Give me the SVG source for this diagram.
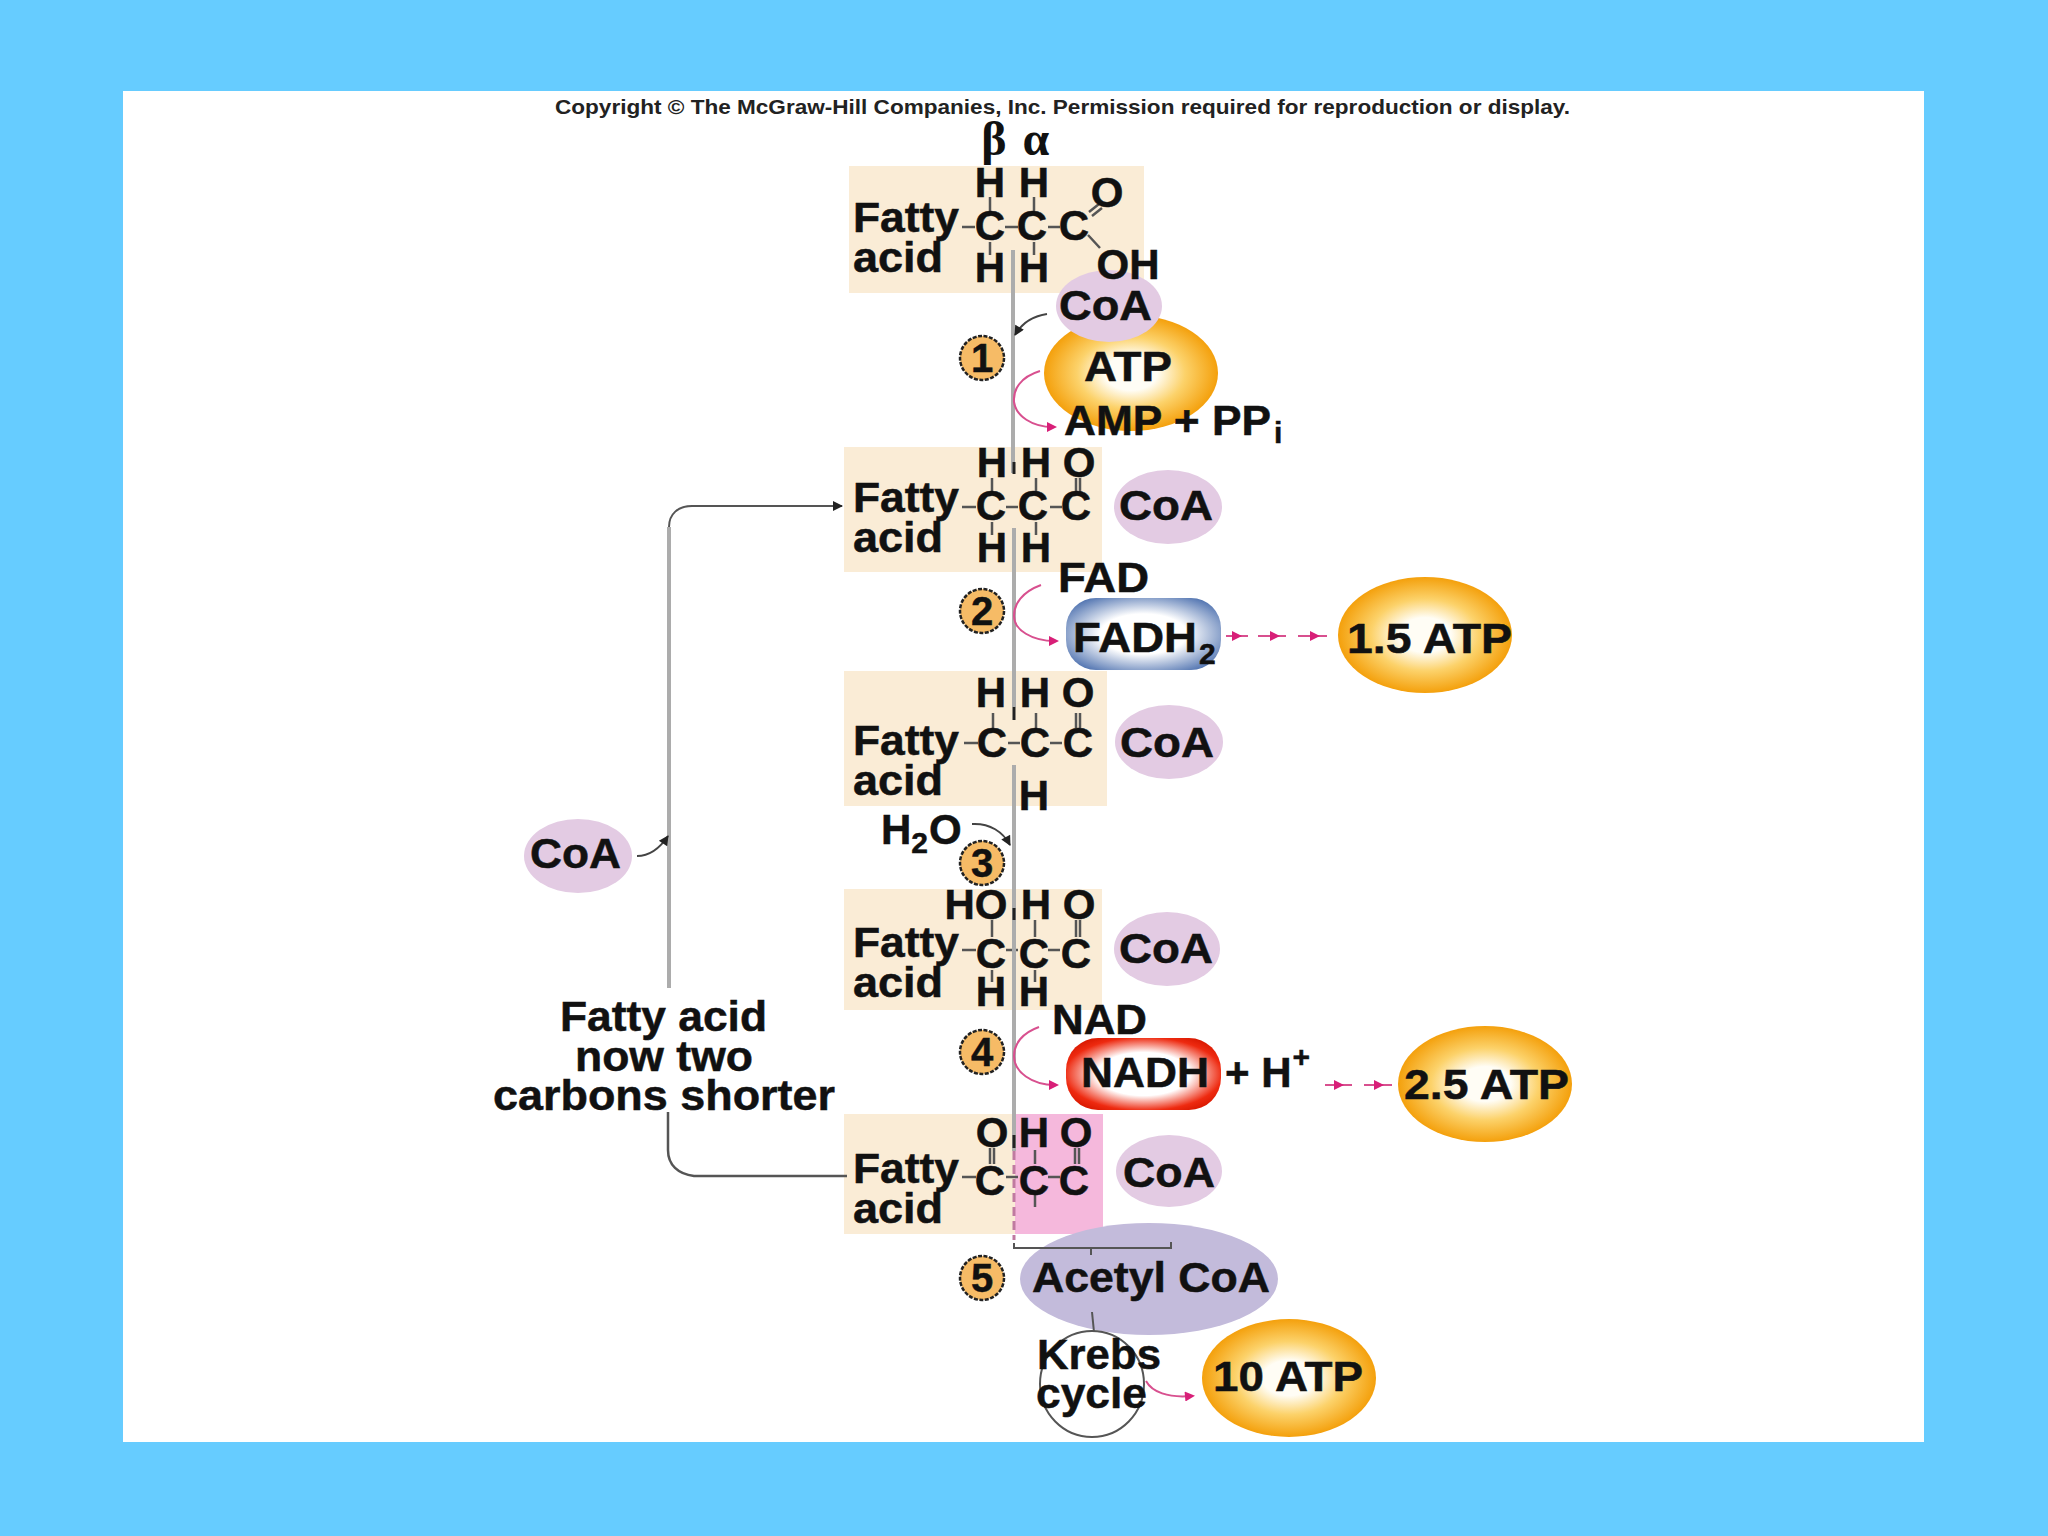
<svg xmlns="http://www.w3.org/2000/svg" width="2048" height="1536" viewBox="0 0 2048 1536">
<style>
text{font-family:"Liberation Sans",Arial,sans-serif;font-weight:700;font-size:42px;fill:#111;stroke:#111;stroke-width:.5}
.m{text-anchor:middle}
.sub{font-size:30px}
.greek{font-family:"Liberation Serif","DejaVu Serif",serif;font-size:48px;font-weight:700;stroke-width:0}
.box{fill:#faecd6}
.coa{fill:#e3cbe3}
.bond{stroke:#555;stroke-width:2.5;fill:none}
.num{fill:#f6bb66;stroke:#222;stroke-width:2.5;stroke-dasharray:4 1.5}
.numt{font-size:40px;text-anchor:middle}
.grey{stroke:#acacac;stroke-width:4;fill:none}
.thin{stroke:#555;stroke-width:2;fill:none}
.blk{stroke:#444;stroke-width:2;fill:none;marker-end:url(#ab)}
.mag{stroke:#d8508f;stroke-width:2;fill:none;marker-end:url(#am)}
.dash{stroke:#d8508f;stroke-width:2;fill:none;marker-mid:url(#am)}
.tick{stroke:#222;stroke-width:3}
</style>
<defs>
<marker id="ab" viewBox="0 0 10 10" refX="9" refY="5" markerWidth="12" markerHeight="10" markerUnits="userSpaceOnUse" orient="auto"><path d="M0 0L10 5L0 10z" fill="#222"/></marker>
<marker id="am" viewBox="0 0 10 10" refX="6" refY="5" markerWidth="12" markerHeight="10" markerUnits="userSpaceOnUse" orient="auto"><path d="M0 0L10 5L0 10z" fill="#d81f78"/></marker>
<radialGradient id="og"><stop offset="0.3" stop-color="#fffdf5"/><stop offset="0.62" stop-color="#fcd26a"/><stop offset="1" stop-color="#f4a00c"/></radialGradient>
<radialGradient id="bg" cx="0.5" cy="0.5" r="0.62"><stop offset="0.45" stop-color="#fff"/><stop offset="1" stop-color="#4b6fae"/></radialGradient>
<radialGradient id="rg" cx="0.5" cy="0.5" r="0.6"><stop offset="0.5" stop-color="#fff"/><stop offset="0.85" stop-color="#ee2a10"/><stop offset="1" stop-color="#d81800"/></radialGradient>
</defs>

<rect id="background" width="2048" height="1536" fill="#66ccff"/>
<rect id="page" x="123" y="91" width="1801" height="1351" fill="#fff"/>
<text id="copyright" x="555" y="114" style="font-size:21px;fill:#222;stroke-width:0" textLength="1015" lengthAdjust="spacingAndGlyphs">Copyright © The McGraw-Hill Companies, Inc. Permission required for reproduction or display.</text>

<g id="greek-labels">
<text class="greek m" x="994" y="155">β</text>
<text class="greek m" x="1036" y="155">α</text>
</g>

<g id="compound-1">
<rect class="box" x="849" y="166" width="295" height="127"/>
<path class="bond" d="M962 227H975M1005 227H1018M1048 227H1060M990 197V212M990 242V255M1034 197V212M1034 242V255M1089 212L1099 204M1092 216L1102 208M1088 235L1100 248"/>
<text x="853" y="232" textLength="106" lengthAdjust="spacingAndGlyphs">Fatty</text><text x="853" y="272" textLength="90" lengthAdjust="spacingAndGlyphs">acid</text>
<text class="m" x="990" y="197">H</text><text class="m" x="1034" y="197">H</text>
<text class="m" x="1107" y="207">O</text>
<text class="m" x="990" y="240">C</text><text class="m" x="1032" y="240">C</text><text class="m" x="1074" y="240">C</text>
<text class="m" x="990" y="282">H</text><text class="m" x="1034" y="282">H</text>
</g>

<g id="compound-2">
<rect class="box" x="844" y="447" width="258" height="125"/>
<path class="bond" d="M962 507H976M1006 507H1018M1050 507H1062M992 478V492M992 522V535M1036 478V492M1036 522V535M1076 478V492M1080 478V492"/>
<text x="853" y="512" textLength="106" lengthAdjust="spacingAndGlyphs">Fatty</text><text x="853" y="552" textLength="90" lengthAdjust="spacingAndGlyphs">acid</text>
<text class="m" x="992" y="477">H</text><text class="m" x="1036" y="477">H</text><text class="m" x="1079" y="477">O</text>
<text class="m" x="991" y="520">C</text><text class="m" x="1033" y="520">C</text><text class="m" x="1076" y="520">C</text>
<text class="m" x="992" y="562">H</text><text class="m" x="1036" y="562">H</text>
</g>
<g id="coa-2"><ellipse class="coa" cx="1168" cy="507" rx="54" ry="37"/><text x="1119" y="520" textLength="94" lengthAdjust="spacingAndGlyphs">CoA</text></g>

<g id="compound-3">
<rect class="box" x="844" y="671" width="263" height="135"/>
<path class="bond" d="M964 743H978M1008 743H1020M1050 743H1062M993 713V728M1036 713V728M1076 713V728M1080 713V728"/>
<text x="853" y="755" textLength="106" lengthAdjust="spacingAndGlyphs">Fatty</text><text x="853" y="795" textLength="90" lengthAdjust="spacingAndGlyphs">acid</text>
<text class="m" x="991" y="707">H</text><text class="m" x="1035" y="707">H</text><text class="m" x="1078" y="707">O</text>
<text class="m" x="992" y="757">C</text><text class="m" x="1035" y="757">C</text><text class="m" x="1078" y="757">C</text>
<text class="m" x="1034" y="810">H</text>
</g>
<g id="coa-3"><ellipse class="coa" cx="1169" cy="742" rx="54" ry="37"/><text x="1120" y="757" textLength="94" lengthAdjust="spacingAndGlyphs">CoA</text></g>

<g id="compound-4">
<rect class="box" x="844" y="889" width="258" height="121"/>
<path class="bond" d="M962 950H976M1006 950H1018M1048 950H1060M992 920V937M1035 920V937M1076 920V937M1080 920V937M992 970V982M1035 970V982"/>
<text x="853" y="957" textLength="106" lengthAdjust="spacingAndGlyphs">Fatty</text><text x="853" y="997" textLength="90" lengthAdjust="spacingAndGlyphs">acid</text>
<text class="m" x="976" y="919">HO</text><text class="m" x="1036" y="919">H</text><text class="m" x="1079" y="919">O</text>
<text class="m" x="991" y="968">C</text><text class="m" x="1034" y="968">C</text><text class="m" x="1076" y="968">C</text>
<text class="m" x="991" y="1006">H</text><text class="m" x="1034" y="1006">H</text>
</g>
<g id="coa-4"><ellipse class="coa" cx="1167" cy="949" rx="53" ry="37"/><text x="1119" y="963" textLength="94" lengthAdjust="spacingAndGlyphs">CoA</text></g>

<g id="compound-5">
<rect class="box" x="844" y="1114" width="172" height="120"/>
<rect x="1015" y="1114" width="88" height="120" fill="#f5b8dc"/>
<path class="bond" d="M962 1177H976M1006 1177H1018M1048 1177H1060M990 1148V1164M994 1148V1164M1035 1150V1164M1075 1148V1164M1079 1148V1164M1035 1195V1207"/>
<text x="853" y="1183" textLength="106" lengthAdjust="spacingAndGlyphs">Fatty</text><text x="853" y="1223" textLength="90" lengthAdjust="spacingAndGlyphs">acid</text>
<text class="m" x="992" y="1147">O</text><text class="m" x="1034" y="1147">H</text><text class="m" x="1076" y="1147">O</text>
<text class="m" x="990" y="1195">C</text><text class="m" x="1034" y="1195">C</text><text class="m" x="1074" y="1195">C</text>
</g>
<g id="coa-5"><ellipse class="coa" cx="1169" cy="1171" rx="53" ry="36"/><text x="1123" y="1187" textLength="92" lengthAdjust="spacingAndGlyphs">CoA</text></g>

<g id="atp-1"><ellipse cx="1131" cy="373" rx="87" ry="58" fill="url(#og)"/><text x="1084" y="381" textLength="88" lengthAdjust="spacingAndGlyphs">ATP</text></g>
<g id="coa-1"><ellipse class="coa" cx="1109" cy="306" rx="53" ry="36"/><text x="1059" y="320" textLength="93" lengthAdjust="spacingAndGlyphs">CoA</text></g>
<g id="compound-1-oh"><text class="m" x="1128" y="279">OH</text></g>
<g id="amp"><text x="1064" y="435" textLength="207" lengthAdjust="spacingAndGlyphs">AMP + PP</text><text class="sub" x="1274" y="443">i</text></g>
<g id="acetyl-coa"><ellipse cx="1149" cy="1279" rx="129" ry="56" fill="#c3bbdb"/><text x="1032" y="1292" textLength="238" lengthAdjust="spacingAndGlyphs">Acetyl CoA</text></g>

<g id="connectors">
<path class="grey" d="M1013 250V473M1014 528V707M1014 765V1151"/>
<path d="M1014 1151V1240" stroke="#c07aa0" stroke-width="3" stroke-dasharray="9 5" fill="none"/>
<path class="tick" d="M1014 462V474M1014 707V720M1014 908V920M1014 1135V1148"/>
<path class="thin" d="M1014 1243V1248H1171V1242M1091 1248V1255"/>
<path class="blk" d="M1047 314C1033 316 1022 323 1015 335"/>
<path class="mag" d="M1040 371C1020 377 1013 390 1014 402C1016 416 1032 427 1053 427"/>
<path class="mag" d="M1041 585C1022 592 1014 604 1014 616C1014 630 1032 641 1055 641"/>
<polyline class="dash" points="1226,636 1238,636 1248,636"/>
<polyline class="dash" points="1258,636 1276,636 1286,636"/>
<polyline class="dash" points="1298,636 1316,636 1327,636"/>
<path class="blk" d="M972 824C990 823 1003 832 1010 845"/>
<path class="mag" d="M1039 1027C1022 1033 1014 1044 1014 1056C1014 1072 1032 1085 1055 1085"/>
<polyline class="dash" points="1325,1085 1340,1085 1352,1085"/>
<polyline class="dash" points="1364,1085 1380,1085 1392,1085"/>
<path class="thin" d="M1092 1312L1094 1332"/>
<ellipse class="thin" cx="1092" cy="1384" rx="52" ry="53"/>
<path class="mag" d="M1146 1381C1152 1392 1168 1398 1191 1396"/>
<path class="grey" d="M669 527V988"/>
<path class="thin" d="M669 527C669 514 678 506 692 506H842" marker-end="url(#ab)"/>
<path class="thin" style="stroke-width:2.5" d="M668 1112V1150C668 1165 678 1174 694 1176H847"/>
<path class="blk" d="M637 856C650 856 660 848 668 836"/>
</g>

<g id="fad"><text x="1058" y="592" textLength="91" lengthAdjust="spacingAndGlyphs">FAD</text></g>
<g id="fadh2"><rect x="1066" y="598" width="155" height="72" rx="30" fill="url(#bg)"/><text x="1073" y="652" textLength="124" lengthAdjust="spacingAndGlyphs">FADH</text><text class="sub" x="1199" y="664">2</text></g>
<g id="atp-2"><ellipse cx="1425" cy="635" rx="87" ry="58" fill="url(#og)"/><text x="1347" y="653" textLength="165" lengthAdjust="spacingAndGlyphs">1.5 ATP</text></g>
<g id="h2o"><text x="881" y="844">H<tspan class="sub" dy="9">2</tspan><tspan dy="-9" dx="1">O</tspan></text></g>
<g id="nad"><text x="1052" y="1034" textLength="95" lengthAdjust="spacingAndGlyphs">NAD</text></g>
<g id="nadh"><rect x="1066" y="1038" width="155" height="72" rx="32" fill="url(#rg)"/><text x="1081" y="1087" textLength="128" lengthAdjust="spacingAndGlyphs">NADH</text></g>
<g id="h-plus"><text x="1225" y="1087">+ H<tspan class="sub" dy="-20" dx="1">+</tspan></text></g>
<g id="atp-3"><ellipse cx="1485" cy="1084" rx="87" ry="58" fill="url(#og)"/><text x="1404" y="1099" textLength="165" lengthAdjust="spacingAndGlyphs">2.5 ATP</text></g>
<g id="krebs"><text x="1037" y="1369" textLength="124" lengthAdjust="spacingAndGlyphs">Krebs</text><text x="1036" y="1408" textLength="111" lengthAdjust="spacingAndGlyphs">cycle</text></g>
<g id="atp-4"><ellipse cx="1289" cy="1378" rx="87" ry="59" fill="url(#og)"/><text x="1213" y="1391" textLength="150" lengthAdjust="spacingAndGlyphs">10 ATP</text></g>

<g id="step-1"><circle class="num" cx="982" cy="358" r="22"/><text class="numt" x="982" y="372">1</text></g>
<g id="step-2"><circle class="num" cx="982" cy="611" r="22"/><text class="numt" x="982" y="625">2</text></g>
<g id="step-3"><circle class="num" cx="982" cy="863" r="22"/><text class="numt" x="982" y="877">3</text></g>
<g id="step-4"><circle class="num" cx="982" cy="1052" r="22"/><text class="numt" x="982" y="1066">4</text></g>
<g id="step-5"><circle class="num" cx="982" cy="1278" r="22"/><text class="numt" x="982" y="1292">5</text></g>

<g id="coa-free"><ellipse class="coa" cx="578" cy="856" rx="54" ry="37"/><text x="530" y="868" textLength="91" lengthAdjust="spacingAndGlyphs">CoA</text></g>
<g id="shorter-label">
<text x="560" y="1031" textLength="207" lengthAdjust="spacingAndGlyphs">Fatty acid</text>
<text x="575" y="1071" textLength="178" lengthAdjust="spacingAndGlyphs">now two</text>
<text x="493" y="1110" textLength="342" lengthAdjust="spacingAndGlyphs">carbons shorter</text>
</g>
</svg>
